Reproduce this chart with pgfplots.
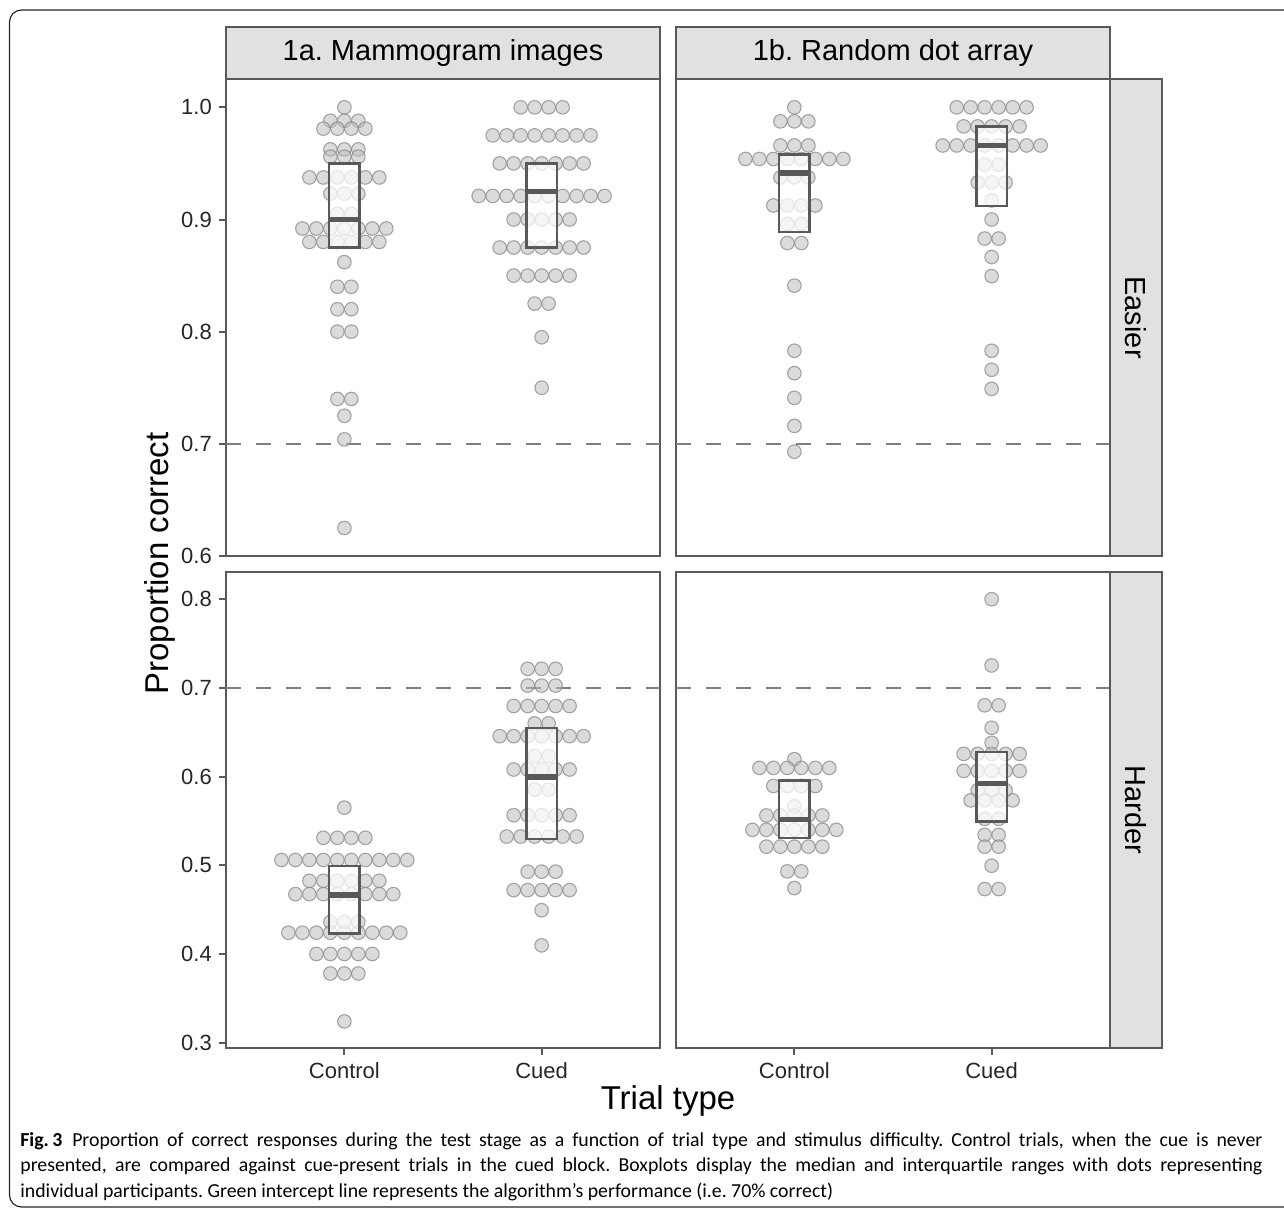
\documentclass[border=0pt]{standalone}
\usepackage{fontspec}
\setmainfont{Liberation Sans}
\newfontfamily\capfont{Carlito}
\usepackage{pgfplots}
\usepackage{pgfplotstable}
\pgfplotsset{compat=1.18}
\frenchspacing

\definecolor{panelline}{HTML}{595959}
\definecolor{stripfill}{HTML}{E1E1E1}
\definecolor{refline}{HTML}{7F7F7F}
\definecolor{dotfill}{HTML}{BDBDBD}
\definecolor{dotedge}{HTML}{8A8A8A}

\newcommand\ticksize{\fontsize{11}{13}\selectfont}
\newcommand\stripsize{\fontsize{14.5}{17}\selectfont}
\newcommand\titlesize{\fontsize{16.5}{19}\selectfont}

% g = trial type (1 Control, 2 Cued), k = horizontal dot slot, v = proportion correct
% 1a. Mammogram images, easier
\pgfplotstableread[row sep=\\]{
g k v\\
1 0 1.000\\
1 -1 0.988\\ 1 0 0.988\\ 1 1 0.988\\
1 -1.5 0.981\\ 1 -0.5 0.981\\ 1 0.5 0.981\\ 1 1.5 0.981\\
1 -1 0.9625\\ 1 0 0.9625\\ 1 1 0.9625\\
1 -1 0.956\\ 1 0 0.956\\ 1 1 0.956\\
1 -2.5 0.9375\\ 1 -1.5 0.9375\\ 1 -0.5 0.9375\\ 1 0.5 0.9375\\ 1 1.5 0.9375\\ 1 2.5 0.9375\\
1 -1 0.923\\ 1 0 0.923\\ 1 1 0.923\\
1 -0.5 0.905\\ 1 0.5 0.905\\
1 -3 0.892\\ 1 -2 0.892\\ 1 -1 0.892\\ 1 0 0.892\\ 1 1 0.892\\ 1 2 0.892\\ 1 3 0.892\\
1 -2.5 0.880\\ 1 -1.5 0.880\\ 1 -0.5 0.880\\ 1 0.5 0.880\\ 1 1.5 0.880\\ 1 2.5 0.880\\
1 0 0.862\\
1 -0.5 0.840\\ 1 0.5 0.840\\
1 -0.5 0.820\\ 1 0.5 0.820\\
1 -0.5 0.800\\ 1 0.5 0.800\\
1 -0.5 0.740\\ 1 0.5 0.740\\
1 0 0.725\\
1 0 0.704\\
1 0 0.625\\
2 -1.5 1.000\\ 2 -0.5 1.000\\ 2 0.5 1.000\\ 2 1.5 1.000\\
2 -3.5 0.975\\ 2 -2.5 0.975\\ 2 -1.5 0.975\\ 2 -0.5 0.975\\ 2 0.5 0.975\\ 2 1.5 0.975\\ 2 2.5 0.975\\ 2 3.5 0.975\\
2 -3 0.950\\ 2 -2 0.950\\ 2 -1 0.950\\ 2 0 0.950\\ 2 1 0.950\\ 2 2 0.950\\ 2 3 0.950\\
2 -4.5 0.921\\ 2 -3.5 0.921\\ 2 -2.5 0.921\\ 2 -1.5 0.921\\ 2 -0.5 0.921\\ 2 0.5 0.921\\ 2 1.5 0.921\\ 2 2.5 0.921\\ 2 3.5 0.921\\ 2 4.5 0.921\\
2 -2 0.900\\ 2 -1 0.900\\ 2 0 0.900\\ 2 1 0.900\\ 2 2 0.900\\
2 -3 0.875\\ 2 -2 0.875\\ 2 -1 0.875\\ 2 0 0.875\\ 2 1 0.875\\ 2 2 0.875\\ 2 3 0.875\\
2 -2 0.850\\ 2 -1 0.850\\ 2 0 0.850\\ 2 1 0.850\\ 2 2 0.850\\
2 -0.5 0.825\\ 2 0.5 0.825\\
2 0 0.795\\
2 0 0.750\\
}\mammoEasy

% 1b. Random dot array, easier
\pgfplotstableread[row sep=\\]{
g k v\\
1 0 1.000\\
1 -1 0.9875\\ 1 0 0.9875\\ 1 1 0.9875\\
1 -1 0.966\\ 1 0 0.966\\ 1 1 0.966\\
1 -3.5 0.954\\ 1 -2.5 0.954\\ 1 -1.5 0.954\\ 1 -0.5 0.954\\ 1 0.5 0.954\\ 1 1.5 0.954\\ 1 2.5 0.954\\ 1 3.5 0.954\\
1 -1 0.9375\\ 1 0 0.9375\\ 1 1 0.9375\\
1 -1.5 0.9125\\ 1 -0.5 0.9125\\ 1 0.5 0.9125\\ 1 1.5 0.9125\\
1 -0.5 0.896\\ 1 0.5 0.896\\
1 -0.5 0.879\\ 1 0.5 0.879\\
1 0 0.841\\
1 0 0.783\\
1 0 0.763\\
1 0 0.741\\
1 0 0.716\\
1 0 0.693\\
2 -2.5 1.000\\ 2 -1.5 1.000\\ 2 -0.5 1.000\\ 2 0.5 1.000\\ 2 1.5 1.000\\ 2 2.5 1.000\\
2 -2 0.983\\ 2 -1 0.983\\ 2 0 0.983\\ 2 1 0.983\\ 2 2 0.983\\
2 -3.5 0.966\\ 2 -2.5 0.966\\ 2 -1.5 0.966\\ 2 -0.5 0.966\\ 2 0.5 0.966\\ 2 1.5 0.966\\ 2 2.5 0.966\\ 2 3.5 0.966\\
2 -0.5 0.949\\ 2 0.5 0.949\\
2 -1 0.933\\ 2 0 0.933\\ 2 1 0.933\\
2 0 0.917\\
2 0 0.900\\
2 -0.5 0.883\\ 2 0.5 0.883\\
2 0 0.8665\\
2 0 0.8495\\
2 0 0.783\\
2 0 0.766\\
2 0 0.749\\
}\dotsEasy

% 1a. Mammogram images, harder
\pgfplotstableread[row sep=\\]{
g k v\\
1 0 0.565\\
1 -1.5 0.531\\ 1 -0.5 0.531\\ 1 0.5 0.531\\ 1 1.5 0.531\\
1 -4.5 0.506\\ 1 -3.5 0.506\\ 1 -2.5 0.506\\ 1 -1.5 0.506\\ 1 -0.5 0.506\\ 1 0.5 0.506\\ 1 1.5 0.506\\ 1 2.5 0.506\\ 1 3.5 0.506\\ 1 4.5 0.506\\
1 -2.5 0.4825\\ 1 -1.5 0.4825\\ 1 -0.5 0.4825\\ 1 0.5 0.4825\\ 1 1.5 0.4825\\ 1 2.5 0.4825\\
1 -3.5 0.4675\\ 1 -2.5 0.4675\\ 1 -1.5 0.4675\\ 1 -0.5 0.4675\\ 1 0.5 0.4675\\ 1 1.5 0.4675\\ 1 2.5 0.4675\\ 1 3.5 0.4675\\
1 -1 0.436\\ 1 0 0.436\\ 1 1 0.436\\
1 -4 0.424\\ 1 -3 0.424\\ 1 -2 0.424\\ 1 -1 0.424\\ 1 0 0.424\\ 1 1 0.424\\ 1 2 0.424\\ 1 3 0.424\\ 1 4 0.424\\
1 -2 0.400\\ 1 -1 0.400\\ 1 0 0.400\\ 1 1 0.400\\ 1 2 0.400\\
1 -1 0.378\\ 1 0 0.378\\ 1 1 0.378\\
1 0 0.324\\
2 -1 0.7215\\ 2 0 0.7215\\ 2 1 0.7215\\
2 -1 0.7026\\ 2 0 0.7026\\ 2 1 0.7026\\
2 -2 0.6796\\ 2 -1 0.6796\\ 2 0 0.6796\\ 2 1 0.6796\\ 2 2 0.6796\\
2 -0.5 0.660\\ 2 0.5 0.660\\
2 -3 0.6456\\ 2 -2 0.6456\\ 2 -1 0.6456\\ 2 0 0.6456\\ 2 1 0.6456\\ 2 2 0.6456\\ 2 3 0.6456\\
2 -0.5 0.623\\ 2 0.5 0.623\\
2 -2 0.608\\ 2 -1 0.608\\ 2 0 0.608\\ 2 1 0.608\\ 2 2 0.608\\
2 -0.5 0.5853\\ 2 0.5 0.5853\\
2 -2 0.5565\\ 2 -1 0.5565\\ 2 0 0.5565\\ 2 1 0.5565\\ 2 2 0.5565\\
2 -2.5 0.5324\\ 2 -1.5 0.5324\\ 2 -0.5 0.5324\\ 2 0.5 0.5324\\ 2 1.5 0.5324\\ 2 2.5 0.5324\\
2 -1 0.4928\\ 2 0 0.4928\\ 2 1 0.4928\\
2 -2 0.472\\ 2 -1 0.472\\ 2 0 0.472\\ 2 1 0.472\\ 2 2 0.472\\
2 0 0.4494\\
2 0 0.4097\\
}\mammoHard

% 1b. Random dot array, harder
\pgfplotstableread[row sep=\\]{
g k v\\
1 0 0.6196\\
1 -2.5 0.6098\\ 1 -1.5 0.6098\\ 1 -0.5 0.6098\\ 1 0.5 0.6098\\ 1 1.5 0.6098\\ 1 2.5 0.6098\\
1 -1.5 0.5894\\ 1 -0.5 0.5894\\ 1 0.5 0.5894\\ 1 1.5 0.5894\\
1 0 0.5664\\
1 -2 0.5562\\ 1 -1 0.5562\\ 1 0 0.5562\\ 1 1 0.5562\\ 1 2 0.5562\\
1 -3 0.540\\ 1 -2 0.540\\ 1 -1 0.540\\ 1 0 0.540\\ 1 1 0.540\\ 1 2 0.540\\ 1 3 0.540\\
1 -2 0.521\\ 1 -1 0.521\\ 1 0 0.521\\ 1 1 0.521\\ 1 2 0.521\\
1 -0.5 0.4931\\ 1 0.5 0.4931\\
1 0 0.4743\\
2 0 0.800\\
2 0 0.7253\\
2 -0.5 0.6804\\ 2 0.5 0.6804\\
2 0 0.655\\
2 0 0.638\\
2 -2 0.6256\\ 2 -1 0.6256\\ 2 0 0.6256\\ 2 1 0.6256\\ 2 2 0.6256\\
2 -2 0.6064\\ 2 -1 0.6064\\ 2 0 0.6064\\ 2 1 0.6064\\ 2 2 0.6064\\
2 -1 0.5845\\ 2 0 0.5845\\ 2 1 0.5845\\
2 -1.5 0.5732\\ 2 -0.5 0.5732\\ 2 0.5 0.5732\\ 2 1.5 0.5732\\
2 -0.5 0.5524\\ 2 0.5 0.5524\\
2 -0.5 0.5343\\ 2 0.5 0.5343\\
2 -0.5 0.521\\ 2 0.5 0.521\\
2 0 0.4995\\
2 -0.5 0.4732\\ 2 0.5 0.4732\\
}\dotsHard

\pgfplotsset{
  panel/.style={
    scale only axis, width=217pt,
    xmin=0.4, xmax=2.6,
    clip mode=individual,
    axis line style={draw=panelline, line width=1pt},
    tick style={draw=panelline, line width=1pt},
    major tick length=3.6pt, tick align=outside,
    ytick pos=left, xtick pos=bottom,
    tick label style={font=\ticksize, text=black!85},
    xtick={1,2}, xticklabels={Control,Cued},
    anchor=north west,
  },
  toprow/.style={height=238.35pt, ymin=0.6, ymax=1.025,
    ytick={0.6,0.7,0.8,0.9,1.0}, yticklabels={0.6,0.7,0.8,0.9,1.0}, xtick=\empty},
  bottomrow/.style={height=238.15pt, ymin=0.294, ymax=0.831,
    ytick={0.3,0.4,0.5,0.6,0.7,0.8}, yticklabels={0.3,0.4,0.5,0.6,0.7,0.8}},
  chance/.style={refline, line width=1pt, dash pattern=on 7.5pt off 7.5pt},
  participants/.style={only marks, mark=*, mark size=3.4pt,
    mark options={fill=dotfill, fill opacity=0.55, draw=dotedge, draw opacity=0.75, line width=0.55pt}},
  % interquartile box (white, translucent) and median bar
  iqr/.style={draw=panelline, line width=1.2pt, fill=white, fill opacity=0.72, line join=miter},
  med/.style={draw=panelline, line width=2.7pt},
}

\begin{document}
\begin{tikzpicture}
\useasboundingbox (0,0) rectangle (642pt,-606.5pt);
\clip (0,0) rectangle (642pt,-606.5pt);
% page frame around figure and caption
\draw[black!85, line width=0.6pt, rounded corners=6pt]
  (670pt,-5pt) -- (4.75pt,-5pt) -- (4.75pt,-603.5pt) -- (670pt,-603.5pt);

% ---- Easier, 1a
\begin{axis}[panel, toprow, at={(113pt,-39.65pt)}]
  \addplot[chance] coordinates {(0.4,0.7) (2.6,0.7)};
  \addplot[participants] table[x expr=\thisrow{g}+0.0709*\thisrow{k}, y=v] {\mammoEasy};
  % Control: Q1 0.875, median 0.9, Q3 0.95
  \addplot[iqr] coordinates {(0.9225,0.875) (1.0775,0.875) (1.0775,0.95) (0.9225,0.95)} -- cycle;
  \addplot[med] coordinates {(0.9225,0.9) (1.0775,0.9)};
  % Cued: Q1 0.875, median 0.925, Q3 0.95
  \addplot[iqr] coordinates {(1.9225,0.875) (2.0775,0.875) (2.0775,0.95) (1.9225,0.95)} -- cycle;
  \addplot[med] coordinates {(1.9225,0.925) (2.0775,0.925)};
\end{axis}

% ---- Easier, 1b
\begin{axis}[panel, toprow, at={(338pt,-39.65pt)}, ytick=\empty]
  \addplot[chance] coordinates {(0.4,0.7) (2.6,0.7)};
  \addplot[participants] table[x expr=\thisrow{g}+0.0709*\thisrow{k}, y=v] {\dotsEasy};
  \addplot[iqr] coordinates {(0.9225,0.889) (1.0775,0.889) (1.0775,0.958) (0.9225,0.958)} -- cycle;
  \addplot[med] coordinates {(0.9225,0.9416) (1.0775,0.9416)};
  \addplot[iqr] coordinates {(1.9225,0.912) (2.0775,0.912) (2.0775,0.983) (1.9225,0.983)} -- cycle;
  \addplot[med] coordinates {(1.9225,0.966) (2.0775,0.966)};
\end{axis}

% ---- Harder, 1a
\begin{axis}[panel, bottomrow, at={(113pt,-285.85pt)}]
  \addplot[chance] coordinates {(0.4,0.7) (2.6,0.7)};
  \addplot[participants] table[x expr=\thisrow{g}+0.0709*\thisrow{k}, y=v] {\mammoHard};
  \addplot[iqr] coordinates {(0.9225,0.4233) (1.0775,0.4233) (1.0775,0.4995) (0.9225,0.4995)} -- cycle;
  \addplot[med] coordinates {(0.9225,0.4664) (1.0775,0.4664)};
  \addplot[iqr] coordinates {(1.9225,0.5294) (2.0775,0.5294) (2.0775,0.655) (1.9225,0.655)} -- cycle;
  \addplot[med] coordinates {(1.9225,0.5996) (2.0775,0.5996)};
\end{axis}

% ---- Harder, 1b
\begin{axis}[panel, bottomrow, at={(338pt,-285.85pt)}, ytick=\empty]
  \addplot[chance] coordinates {(0.4,0.7) (2.6,0.7)};
  \addplot[participants] table[x expr=\thisrow{g}+0.0709*\thisrow{k}, y=v] {\dotsHard};
  \addplot[iqr] coordinates {(0.9225,0.531) (1.0775,0.531) (1.0775,0.5958) (0.9225,0.5958)} -- cycle;
  \addplot[med] coordinates {(0.9225,0.5513) (1.0775,0.5513)};
  \addplot[iqr] coordinates {(1.9225,0.5494) (2.0775,0.5494) (2.0775,0.6279) (1.9225,0.6279)} -- cycle;
  \addplot[med] coordinates {(1.9225,0.592) (2.0775,0.592)};
\end{axis}

% facet strips
\begin{scope}[draw=panelline, line width=1pt]
  \draw[fill=stripfill] (113pt,-13.35pt) rectangle (330pt,-39.65pt);
  \draw[fill=stripfill] (338pt,-13.35pt) rectangle (555pt,-39.65pt);
  \draw[fill=stripfill] (555pt,-39.65pt) rectangle (581pt,-278pt);
  \draw[fill=stripfill] (555pt,-285.85pt) rectangle (581pt,-524pt);
\end{scope}
\node[font=\stripsize] at (221.5pt,-26.5pt) {1a. Mammogram images};
\node[font=\stripsize] at (446.5pt,-26.5pt) {1b. Random dot array};
\node[font=\stripsize, rotate=-90] at (568pt,-158.8pt) {Easier};
\node[font=\stripsize, rotate=-90] at (568pt,-404.9pt) {Harder};

% axis titles
\node[font=\titlesize, rotate=90] at (80pt,-281.75pt) {Proportion correct};
\node[font=\titlesize] at (334pt,-550.5pt) {Trial type};

% caption
\node[anchor=base west, inner sep=0pt] at (10pt,-573.2pt) {\parbox[t]{621pt}{\capfont\fontsize{9.9}{12.75}\selectfont
\textbf{Fig.\,3}\enspace Proportion of correct responses during the test stage as a function of trial type and stimulus difficulty. Control trials, when the cue is never\linebreak
presented, are compared against cue-present trials in the cued block. Boxplots display the median and interquartile ranges with dots representing\linebreak
individual participants. Green intercept line represents the algorithm’s performance (i.e. 70\% correct)}};
\end{tikzpicture}
\end{document}
